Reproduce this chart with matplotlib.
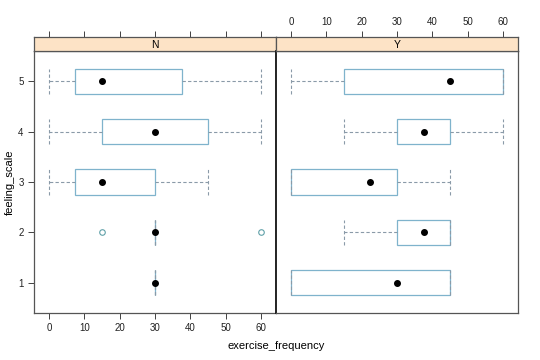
import matplotlib
matplotlib.use("Agg")
import matplotlib.pyplot as plt
import numpy as np

plt.rcParams["font.family"] = ["Liberation Sans", "DejaVu Sans"]

levels = [1, 2, 3, 4, 5]
panels = ["N", "Y"]

# five-number summaries per feeling_scale level (1..5)
n_low = [30, 30, 0, 0, 0]
n_q1 = [30, 30, 7.5, 15, 7.5]
n_med = [30, 30, 15, 30, 15]
n_q3 = [30, 30, 30, 45, 37.5]
n_high = [30, 30, 45, 60, 60]
n_out = [[], [15, 60], [], [], []]

y_low = [0, 15, 0, 15, 0]
y_q1 = [0, 30, 0, 30, 15]
y_med = [30, 37.5, 22.5, 37.5, 45]
y_q3 = [45, 45, 30, 45, 60]
y_high = [45, 45, 45, 60, 60]
y_out = [[], [], [], [], []]

xticks = [0, 10, 20, 30, 40, 50, 60]

summaries = {
    "N": (n_low, n_q1, n_med, n_q3, n_high, n_out),
    "Y": (y_low, y_q1, y_med, y_q3, y_high, y_out),
}

BOX = "#7fb3cc"
WHISK = "#8a9aa8"
STRIP = "#fde3c6"
EDGE = "#555555"

W, H = 540, 360
fig = plt.figure(figsize=(5.4, 3.6), dpi=100)


def rect(x0, y0, x1, y1):
    return [x0 / W, 1 - y1 / H, (x1 - x0) / W, (y1 - y0) / H]


for j, p in enumerate(panels):
    x0 = 34 if j == 0 else 276
    x1 = 276 if j == 0 else 518
    ax = fig.add_axes(rect(x0, 51, x1, 313))
    st = fig.add_axes(rect(x0, 37, x1, 51))
    lo, q1, med, q3, hi, out = summaries[p]
    stats = [dict(whislo=lo[i], q1=q1[i], med=med[i], q3=q3[i], whishi=hi[i],
                  fliers=out[i]) for i in range(len(levels))]
    ax.bxp(stats, positions=levels, vert=False, widths=0.5, capwidths=0.5,
           patch_artist=True,
           boxprops=dict(facecolor="white", edgecolor=BOX, lw=0.9),
           whiskerprops=dict(color=WHISK, ls=(0, (3, 2)), lw=0.8),
           capprops=dict(color=WHISK, ls=(0, (3, 2)), lw=0.8),
           medianprops=dict(visible=False),
           flierprops=dict(marker="o", mfc="none", mec="#5fa0a8", ms=4, mew=0.8))
    ax.plot(med, levels, "o", color="black", ms=4, zorder=5)
    ax.set_xlim(-4.2, 64.2)
    ax.set_ylim(0.4, 5.6)
    ax.set_xticks(xticks)
    ax.tick_params(labelsize=7, length=4, width=0.6, colors="#222222")
    if j == 0:
        ax.set_yticks(levels)
        ax.set_yticklabels([str(v) for v in levels])
    else:
        ax.set_yticks([])
        ax.xaxis.set_ticks_position("none")
        ax.set_xticklabels([])
    for s in ax.spines.values():
        s.set_color(EDGE)
        s.set_linewidth(0.9)
    if j == 1:
        ax.spines["left"].set_color("black")
        ax.spines["left"].set_linewidth(1.2)

    st.set_facecolor(STRIP)
    st.set_xlim(-4.2, 64.2)
    st.set_yticks([])
    st.text(0.5, 0.45, p, transform=st.transAxes, ha="center", va="center", fontsize=7.5)
    for s in st.spines.values():
        s.set_color(EDGE)
        s.set_linewidth(0.9)
    st.xaxis.set_ticks_position("top")
    st.set_xticks(xticks)
    st.tick_params(axis="x", length=4, width=0.6, labelsize=7, colors="#222222")
    if j == 0:
        st.set_xticklabels([])

fig.text(276 / W, 1 - 346 / H, "exercise_frequency", ha="center", va="center", fontsize=8)
fig.text(10 / W, 1 - 182 / H, "feeling_scale", ha="center", va="center",
         rotation=90, fontsize=8)
fig.savefig("out.png", dpi=100)
